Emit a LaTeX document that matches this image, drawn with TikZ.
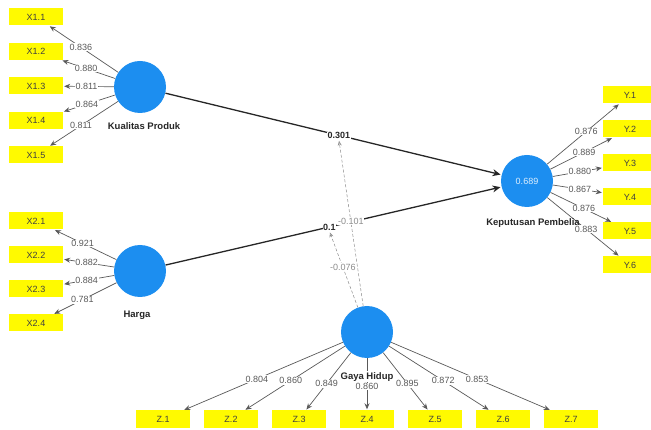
\documentclass[tikz,border=0pt]{standalone}
\usepackage{fontspec}
\setmainfont{Liberation Sans}
\usetikzlibrary{positioning,arrows.meta}
\definecolor{lvblue}{RGB}{28,142,240}
\definecolor{mvyellow}{RGB}{255,250,0}

\begin{document}
\begin{tikzpicture}[->,>={Stealth[length=6pt,width=5pt]},shorten >=1pt,x=1pt,y=-1pt,font=\fontsize{9}{10}\selectfont]
\tikzstyle{latent}=[circle,fill=lvblue,minimum size=52pt,inner sep=0pt,text=white!85!lvblue]
\tikzstyle{indicator}=[fill=mvyellow,minimum width=54pt,minimum height=17pt,inner sep=0pt,text=black!75]
\tikzstyle{lvname}=[font=\fontsize{9.5}{10}\selectfont\bfseries,text=black!85,inner sep=1pt]
\tikzstyle{loading}=[pos=.54,fill=white,inner sep=0.6pt,text=black!65]
\tikzstyle{outer}=[draw=black!65,line width=0.7pt]
\tikzstyle{inner}=[draw=black!85,line width=1.3pt,-{Stealth[length=8pt,width=7pt]}]
\tikzstyle{moderator}=[draw=black!45,densely dashed,line width=0.5pt,-{Stealth[open,length=5pt,width=4pt]}]
\tikzstyle{coef}=[fill=white,inner sep=0.6pt,font=\fontsize{9}{10}\selectfont\bfseries,text=black!85]
\tikzstyle{modcoef}=[fill=white,inner sep=0.6pt,text=black!45]
\useasboundingbox (0,0) rectangle (651,430);

% latent variables
\node[latent] (kp) at (140,87) {};
\node[latent] (hg) at (140,271) {};
\node[latent] (kep) at (527,181) {0.689};
\node[latent] (gh) at (367,332) {};

% indicators
\node[indicator] (x11) at (36,17) {X1.1};
\node[indicator,below of=x11,node distance=34.5pt] (x12) {X1.2};
\node[indicator,below of=x12,node distance=34.5pt] (x13) {X1.3};
\node[indicator,below of=x13,node distance=34.5pt] (x14) {X1.4};
\node[indicator,below of=x14,node distance=34.5pt] (x15) {X1.5};

\node[indicator] (x21) at (36,221) {X2.1};
\node[indicator,below of=x21,node distance=34pt] (x22) {X2.2};
\node[indicator,below of=x22,node distance=34pt] (x23) {X2.3};
\node[indicator,below of=x23,node distance=34pt] (x24) {X2.4};

\node[indicator] (y1) at (630,95) {Y.1};
\node[indicator,below of=y1,node distance=34pt] (y2) {Y.2};
\node[indicator,below of=y2,node distance=34pt] (y3) {Y.3};
\node[indicator,below of=y3,node distance=34pt] (y4) {Y.4};
\node[indicator,below of=y4,node distance=34pt] (y5) {Y.5};
\node[indicator,below of=y5,node distance=34pt] (y6) {Y.6};

\node[indicator] (z1) at (163,419) {Z.1};
\node[indicator,right of=z1,node distance=68pt] (z2) {Z.2};
\node[indicator,right of=z2,node distance=68pt] (z3) {Z.3};
\node[indicator,right of=z3,node distance=68pt] (z4) {Z.4};
\node[indicator,right of=z4,node distance=68pt] (z5) {Z.5};
\node[indicator,right of=z5,node distance=68pt] (z6) {Z.6};
\node[indicator,right of=z6,node distance=68pt] (z7) {Z.7};

% outer loadings
\path
(kp) edge[outer] node[loading] {0.836} (x11)
(kp) edge[outer] node[loading] {0.880} (x12)
(kp) edge[outer] node[loading] {0.811} (x13)
(kp) edge[outer] node[loading] {0.864} (x14)
(kp) edge[outer] node[loading] {0.811} (x15)
(hg) edge[outer] node[loading] {0.921} (x21)
(hg) edge[outer] node[loading] {0.882} (x22)
(hg) edge[outer] node[loading] {0.884} (x23)
(hg) edge[outer] node[loading] {0.781} (x24)
(kep) edge[outer] node[loading] {0.876} (y1)
(kep) edge[outer] node[loading] {0.889} (y2)
(kep) edge[outer] node[loading] {0.880} (y3)
(kep) edge[outer] node[loading] {0.867} (y4)
(kep) edge[outer] node[loading] {0.876} (y5)
(kep) edge[outer] node[loading] {0.883} (y6)
(gh) edge[outer] node[loading] {0.804} (z1)
(gh) edge[outer] node[loading] {0.860} (z2)
(gh) edge[outer] node[loading] {0.849} (z3)
(gh) edge[outer] node[loading] {0.860} (z4)
(gh) edge[outer] node[loading] {0.895} (z5)
(gh) edge[outer] node[loading] {0.872} (z6)
(gh) edge[outer] node[loading] {0.853} (z7)
;

% inner model
\path
(kp) edge[inner] node[coef,pos=.516] (p1) {0.301} (kep)
(hg) edge[inner] node[coef,pos=.488] (p2) {0.1} (kep)
;
\path
(gh) edge[moderator] node[modcoef,pos=.51] {-0.101} (p1.south)
(gh) edge[moderator] node[modcoef,pos=.53] {-0.076} (p2.south)
;

% names
\node[lvname,below=8.5pt of kp,xshift=4pt] (kpname) {Kualitas Produk};
\node[lvname,below=13pt of hg,xshift=-3pt] (hgname) {Harga};
\node[lvname,below=10pt of kep,xshift=6pt] (kepname) {Keputusan Pembelia};
\node[lvname,below=13pt of gh,fill=white] (ghname) {Gaya Hidup};
\end{tikzpicture}
\end{document}
